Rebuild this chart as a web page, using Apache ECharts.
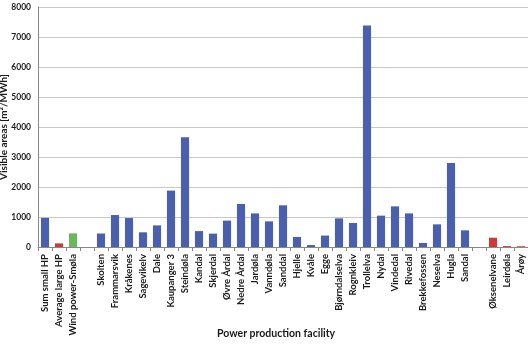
<!DOCTYPE html>
<html>
<head>
  <meta charset="utf-8">
  <title>Visible areas</title>
  <script src="https://fastly.jsdelivr.net/npm/echarts@6/dist/echarts.min.js"></script>
</head>
<body style="margin:0;background:#fff">
<div id="main" style="width:528px;height:344px;"></div>
<script type="text/javascript">
  // categories, '' = empty slot between groups
  var categories = ['Sum small HP', 'Average large HP', 'Wind power-Smøla', '',
    'Skolten', 'Frammarsvik', 'Kråkenes', 'Sagevikelv', 'Dale', 'Kaupanger 3', 'Steindøla',
    'Kandal', 'Skjerdal', 'Øvre Årdal', 'Nedre Årdal', 'Jardøla', 'Vanndøla', 'Sanddal',
    'Hjelle', 'Kvåle', 'Egge', 'Bjørndalselva', 'Rognkleiv', 'Trollelva', 'Nydal', 'Vindedal',
    'Rivedal', 'Brekkefossen', 'Neselva', 'Hugla', 'Sandal', '',
    'Øksenelvane', 'Leirdøla', 'Årøy'];
  var values = [970, 120, 455, null,
    450, 1065, 965, 490, 720, 1880, 3655,
    530, 445, 880, 1435, 1120, 855, 1390,
    335, 65, 380, 955, 800, 7380, 1045, 1355,
    1120, 135, 755, 2800, 555, null,
    310, 30, 25];
  // colour group of each bar: b = blue, r = red, g = green
  var groups = ['b', 'r', 'g', 'b',
    'b', 'b', 'b', 'b', 'b', 'b', 'b',
    'b', 'b', 'b', 'b', 'b', 'b', 'b',
    'b', 'b', 'b', 'b', 'b', 'b', 'b', 'b',
    'b', 'b', 'b', 'b', 'b', 'b',
    'r', 'r', 'r'];
  var yTicks = [0, 1000, 2000, 3000, 4000, 5000, 6000, 7000, 8000];

  var palette = { b: '#4a5fae', r: '#cc3a3a', g: '#6bb85a' };
  var barData = values.map(function (v, i) {
    return { value: v == null ? '-' : v, itemStyle: { color: palette[groups[i]] } };
  });

  var myChart = echarts.init(document.getElementById('main'));
  var option = {
    animation: false,
    // x axis title drawn as a bottom title
    title: {
      text: 'Power production facility',
      left: 212,
      bottom: 0,
      textStyle: { fontFamily: 'Lato', fontWeight: 'bold', fontSize: 10.5, color: '#1a1a1a' }
    },
    grid: { left: 38, right: 0, top: 7, bottom: 97, outerBoundsMode: 'none', containLabel: false },
    xAxis: {
      type: 'category',
      data: categories,
      axisLine: { lineStyle: { color: '#888' } },
      axisTick: { show: true, lineStyle: { color: '#888' }, length: 4 },
      axisLabel: {
        interval: 0, rotate: 90, fontFamily: 'Lato', fontWeight: 'bold', fontSize: 9.5,
        color: '#1a1a1a', margin: 7
      }
    },
    yAxis: {
      type: 'value',
      min: yTicks[0],
      max: yTicks[yTicks.length - 1],
      interval: 1000,
      name: 'Visible areas [m²/MWh]',
      nameLocation: 'middle',
      nameGap: 29,
      nameMoveOverlap: false,
      nameTextStyle: { fontFamily: 'Lato', fontWeight: 'bold', fontSize: 10, color: '#1a1a1a' },
      axisLine: { show: true, lineStyle: { color: '#888' } },
      axisTick: { show: false },
      axisLabel: {
        fontFamily: 'Lato', fontWeight: 'bold', fontSize: 8.5, color: '#1a1a1a', margin: 7,
        formatter: function (v) { return String(v); }
      },
      splitLine: { lineStyle: { color: '#c8c8c8', width: 1 } }
    },
    series: [{
      type: 'bar',
      data: barData,
      barCategoryGap: '42%'
    }]
  };
  myChart.setOption(option);
</script>
</body>
</html>
